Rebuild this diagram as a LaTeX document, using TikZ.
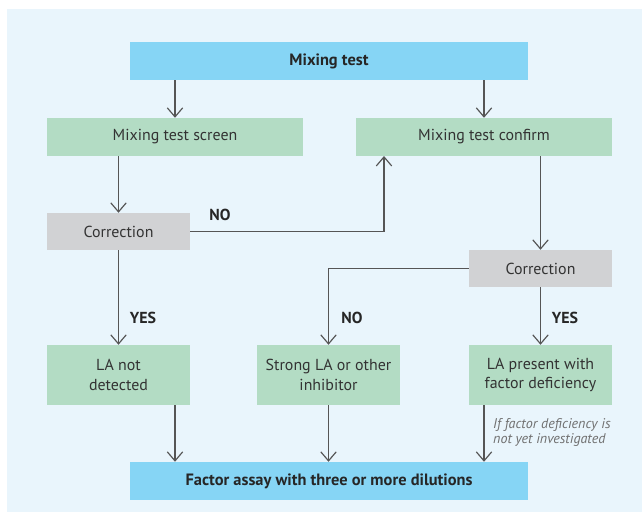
\documentclass[tikz,border=0pt]{standalone}
\usepackage{fontspec}
\setmainfont{PT Sans}
\usetikzlibrary{arrows.meta}
\definecolor{bgblue}{HTML}{E9F5FC}
\definecolor{headblue}{HTML}{86D5F5}
\definecolor{boxgreen}{HTML}{B3DCC4}
\definecolor{boxgrey}{HTML}{D1D2D4}
\definecolor{linegrey}{HTML}{555555}
\definecolor{notegrey}{HTML}{707070}

\begin{document}
\begin{tikzpicture}[x=0.03cm, y=-0.03cm,
font=\fontsize{13.6}{17}\selectfont,
box/.style={inner sep=0pt, align=center, text=black!80, anchor=center},
head/.style={box, fill=headblue, minimum width=11.94cm, minimum height=1.14cm, font=\fontsize{14}{17}\selectfont\bfseries, text=black!85},
wide/.style={box, fill=boxgreen, minimum width=7.68cm, minimum height=1.14cm},
corr/.style={box, fill=boxgrey, minimum width=4.29cm, minimum height=1.11cm},
result/.style={box, fill=boxgreen, minimum width=4.29cm, minimum height=1.8cm},
arr/.style={draw=linegrey, line width=1pt, -{Straight Barb[length=2.7mm, width=4.6mm]}},
answer/.style={font=\fontsize{13.6}{17}\selectfont\bfseries, text=black!85}]
\useasboundingbox (0,0) rectangle (642,519);
\fill[bgblue] (7,9) rectangle (642,512);

\node[head] (mix) at (329,61) {Mixing test};
\node[wide] (screen) at (175,137) {Mixing test screen};
\node[wide] (confirm) at (484,137) {Mixing test confirm};
\node[corr] (corrL) at (118.5,231.5) {Correction};
\node[corr] (corrR) at (540.5,268.5) {Correction};
\node[result] (notdet) at (118.5,375) {LA not\\detected};
\node[result] (strong) at (328.5,375) {Strong LA or other\\inhibitor};
\node[result] (present) at (540.5,375) {LA present with\\factor deficiency};
\node[head] (assay) at (329,481) {Factor assay with three or more dilutions};
\coordinate (back) at (384,156);

% top part
\draw[arr] (mix.south -| screen.south) -- (screen.north);
\draw[arr] (mix.south -| confirm.south) -- (confirm.north);
\draw[arr] (screen.south -| corrL.north) -- (corrL.north);
\draw[arr] (confirm.south -| corrR.north) -- (corrR.north);
\draw[arr] (corrL.east) -| (back);
\draw[arr] (corrR.west) -| (strong.north);
\draw[arr] (corrL.south) -- (notdet.north);
\draw[arr] (corrR.south) -- (present.north);

% into the factor assay
\draw[arr] (notdet.south -| screen.south) -- (assay.north -| screen.south);
\draw[arr] (strong.south) -- (strong.south |- assay.north);
\draw[arr] (present.south -| confirm.south) -- (assay.north -| confirm.south);

\node[answer] (noL) at (220,215) {NO};
\node[answer] (noR) at (352,318) {NO};
\node[answer] (yesL) at (143,318) {YES};
\node[answer] (yesR) at (565,318) {YES};
\node[anchor=west, align=left, inner sep=0pt, text=notegrey, font=\fontsize{12}{13.5}\selectfont\itshape] (note) at (493,432.5) {If factor deficiency is\\not yet investigated};
\end{tikzpicture}
\end{document}
